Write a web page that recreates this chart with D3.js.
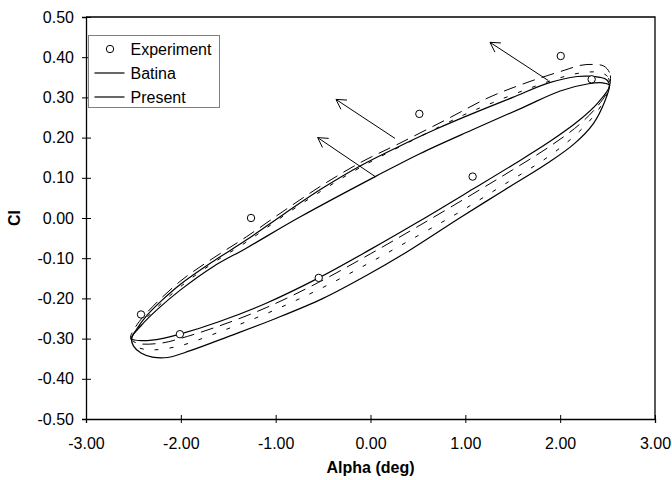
<!DOCTYPE html>
<html>
<head>
<meta charset="utf-8">
<script src="https://cdn.jsdelivr.net/npm/d3@7"></script>
<style>
    body { margin: 0; background: #fff; }
    text { font-family: Arial, "Liberation Sans", sans-serif; }
</style>
</head>
<body>
<svg id="chart" width="672" height="480"></svg>
<script>
// ---- data ----
var xTicks = [-3, -2, -1, 0, 1, 2, 3],
    xTickLabels = ["-3.00", "-2.00", "-1.00", "0.00", "1.00", "2.00", "3.00"],
    yTicks = [-0.5, -0.4, -0.3, -0.2, -0.1, 0, 0.1, 0.2, 0.3, 0.4, 0.5],
    yTickLabels = ["-0.50", "-0.40", "-0.30", "-0.20", "-0.10", "0.00", "0.10", "0.20", "0.30", "0.40", "0.50"];

var experiment = [
    [-2.42, -0.240], [-2.01, -0.289], [-1.26, 0.000], [-0.546, -0.149],
    [0.515, 0.259], [1.077, 0.103], [2.006, 0.403], [2.332, 0.345]
];

// outer solid loop: upper branch right -> left, lower branch left -> right
var batinaUpper = [
    [2.52, 0.330], [2.49, 0.344], [2.42, 0.350], [2.30, 0.353], [2.18, 0.352], [1.88, 0.336],
    [1.50, 0.300], [1.10, 0.262], [0.70, 0.222], [0.30, 0.178], [-0.09, 0.132], [-0.50, 0.075],
    [-0.90, 0.012], [-1.31, -0.055], [-1.66, -0.108], [-2.01, -0.166], [-2.20, -0.205],
    [-2.36, -0.243], [-2.47, -0.278], [-2.52, -0.300]
];
var batinaLower = [
    [-2.52, -0.300], [-2.50, -0.318], [-2.42, -0.336], [-2.30, -0.346], [-2.14, -0.347],
    [-1.90, -0.330], [-1.50, -0.295], [-1.00, -0.250], [-0.50, -0.200], [-0.02, -0.140],
    [0.40, -0.082], [0.94, 0.000], [1.40, 0.068], [1.89, 0.140], [2.15, 0.185],
    [2.35, 0.235], [2.47, 0.290], [2.52, 0.330]
];

// inner solid loop
var presentUpper = [
    [2.52, 0.330], [2.45, 0.336], [2.30, 0.334], [2.00, 0.316], [1.60, 0.274], [1.07, 0.219],
    [0.52, 0.160], [0.05, 0.103], [-0.74, 0.003], [-1.31, -0.075], [-1.66, -0.121],
    [-2.01, -0.180], [-2.25, -0.228], [-2.42, -0.268], [-2.52, -0.300]
];
var presentLower = [
    [-2.52, -0.300], [-2.40, -0.305], [-2.20, -0.300], [-2.01, -0.289], [-1.60, -0.258],
    [-1.10, -0.212], [-0.546, -0.149], [0.0, -0.078], [0.50, -0.010], [1.08, 0.072],
    [1.50, 0.132], [1.89, 0.190], [2.20, 0.243], [2.40, 0.287], [2.52, 0.330]
];

// two dashed loops with no legend entry
var longDashUpper = [
    [2.53, 0.340], [2.52, 0.362], [2.46, 0.378], [2.35, 0.382], [2.22, 0.380], [2.05, 0.368],
    [1.65, 0.337], [1.25, 0.300], [0.80, 0.245], [0.30, 0.185], [-0.09, 0.140], [-0.50, 0.083],
    [-0.90, 0.020], [-1.31, -0.047], [-1.66, -0.100], [-2.01, -0.158], [-2.36, -0.236],
    [-2.48, -0.272], [-2.53, -0.300]
];
var longDashLower = [
    [-2.53, -0.300], [-2.45, -0.312], [-2.20, -0.311], [-2.01, -0.300], [-1.60, -0.269],
    [-1.10, -0.223], [-0.546, -0.160], [0.0, -0.089], [0.50, -0.021], [1.08, 0.060],
    [1.50, 0.120], [1.89, 0.178], [2.20, 0.232], [2.40, 0.280], [2.50, 0.315], [2.53, 0.340]
];
var shortDashUpper = [
    [2.52, 0.335], [2.50, 0.352], [2.42, 0.362], [2.25, 0.362], [2.03, 0.351], [1.68, 0.323],
    [1.29, 0.287], [0.98, 0.256], [0.50, 0.200], [-0.09, 0.128], [-0.50, 0.070], [-0.90, 0.008],
    [-1.31, -0.060], [-1.66, -0.112], [-2.01, -0.172], [-2.36, -0.248], [-2.48, -0.282],
    [-2.52, -0.305]
];
var shortDashLower = [
    [-2.52, -0.305], [-2.45, -0.322], [-2.30, -0.328], [-2.01, -0.318], [-1.60, -0.284],
    [-1.10, -0.238], [-0.546, -0.178], [0.0, -0.110], [0.50, -0.044], [0.94, 0.015],
    [1.40, 0.082], [1.89, 0.155], [2.20, 0.215], [2.40, 0.268], [2.50, 0.312], [2.52, 0.335]
];

// arrows: [tail, head]
var arrows = [
    [[1.875, 0.342], [1.26, 0.437]],
    [[0.258, 0.198], [-0.364, 0.295]],
    [[0.05, 0.103], [-0.557, 0.200]]
];

var legendLabels = ["Experiment", "Batina", "Present"];

// ---- drawing ----
var svg = d3.select("#chart");

var x = d3.scaleLinear().domain([-3, 3]).range([86, 655]),
    y = d3.scaleLinear().domain([-0.5, 0.5]).range([419, 17]);

svg.append("rect").attr("width", 672).attr("height", 480).attr("fill", "#fff");

// plot frame (top + right)
svg.append("path")
    .attr("d", `M${x(-3)},${y(0.5)}H${x(3)}V${y(-0.5)}`)
    .attr("fill", "none")
    .attr("stroke", "#000")
    .attr("stroke-width", 1.3);

var line = d3.line()
    .curve(d3.curveCatmullRomClosed.alpha(0.5))
    .x((d) => x(d[0]))
    .y((d) => y(d[1]));

var loop = (upper, lower) => upper.concat(lower.slice(1, -1));

var loops = [
    { pts: loop(longDashUpper, longDashLower), dash: "13,7", w: 1 },
    { pts: loop(shortDashUpper, shortDashLower), dash: "4,11", w: 1 },
    { pts: loop(batinaUpper, batinaLower), dash: null, w: 1.2 },
    { pts: loop(presentUpper, presentLower), dash: null, w: 1.2 }
];

svg.append("g")
    .selectAll("path")
    .data(loops)
    .enter()
    .append("path")
    .attr("d", (d) => line(d.pts))
    .attr("fill", "none")
    .attr("stroke", "#000")
    .attr("stroke-width", (d) => d.w)
    .attr("stroke-dasharray", (d) => d.dash);

// arrows with open heads
var arrowG = svg.append("g").attr("stroke", "#000").attr("fill", "none").attr("stroke-width", 1);
arrows.forEach(function (a) {
    let tx = x(a[0][0]), ty = y(a[0][1]),
        hx = x(a[1][0]), hy = y(a[1][1]),
        len = Math.hypot(tx - hx, ty - hy),
        ux = (tx - hx) / len, uy = (ty - hy) / len,
        ang = Math.PI / 6, barb = 11;
    let b1 = [hx + barb * (ux * Math.cos(ang) - uy * Math.sin(ang)), hy + barb * (ux * Math.sin(ang) + uy * Math.cos(ang))],
        b2 = [hx + barb * (ux * Math.cos(-ang) - uy * Math.sin(-ang)), hy + barb * (ux * Math.sin(-ang) + uy * Math.cos(-ang))];
    arrowG.append("path").attr("d", `M${tx},${ty}L${hx},${hy}`);
    arrowG.append("path").attr("d", `M${b1[0]},${b1[1]}L${hx},${hy}L${b2[0]},${b2[1]}`);
});

// experiment markers
svg.append("g")
    .selectAll("circle")
    .data(experiment)
    .enter()
    .append("circle")
    .attr("cx", (d) => x(d[0]))
    .attr("cy", (d) => y(d[1]))
    .attr("r", 3.7)
    .attr("fill", "#fff")
    .attr("stroke", "#000")
    .attr("stroke-width", 1);

// axes
var xAxis = d3.axisBottom(x)
    .tickValues(xTicks)
    .tickFormat((d, i) => xTickLabels[i])
    .tickSizeOuter(0)
    .tickSize(4)
    .tickPadding(15);
var yAxis = d3.axisLeft(y)
    .tickValues(yTicks)
    .tickFormat((d, i) => yTickLabels[i])
    .tickSizeOuter(0)
    .tickSize(4)
    .tickPadding(8);

svg.append("g")
    .attr("transform", `translate(0,${y(-0.5)})`)
    .call(xAxis)
    .call((g) => g.selectAll(".tick line").attr("y1", -4).attr("y2", 4))
    .call((g) => g.select(".domain").attr("stroke-width", 1.3))
    .call((g) => g.selectAll("text").attr("font-size", 16).attr("fill", "#000").attr("font-family", "Arial, 'Liberation Sans', sans-serif"));

svg.append("g")
    .attr("transform", `translate(${x(-3)},0)`)
    .call(yAxis)
    .call((g) => g.selectAll(".tick line").attr("x1", -4).attr("x2", 5))
    .call((g) => g.select(".domain").attr("stroke-width", 1.3))
    .call((g) => g.selectAll("text").attr("font-size", 16).attr("fill", "#000").attr("font-family", "Arial, 'Liberation Sans', sans-serif"));

// axis titles
svg.append("text")
    .attr("x", (x(-3) + x(3)) / 2)
    .attr("y", 473)
    .attr("text-anchor", "middle")
    .attr("font-size", 16)
    .attr("font-weight", "bold")
    .text("Alpha (deg)");

svg.append("text")
    .attr("transform", `translate(20,${y(0)}) rotate(-90)`)
    .attr("text-anchor", "middle")
    .attr("font-size", 16)
    .attr("font-weight", "bold")
    .text("Cl");

// legend
var legend = svg.append("g").attr("transform", "translate(88.5,35.5)");
legend.append("rect")
    .attr("width", 131)
    .attr("height", 72)
    .attr("fill", "#fff")
    .attr("stroke", "#808080")
    .attr("stroke-width", 1);

legendLabels.forEach(function (label, i) {
    let cy = 13.5 + i * 24;
    if (i === 0) {
        legend.append("circle").attr("cx", 21.5).attr("cy", cy).attr("r", 3.7)
            .attr("fill", "#fff").attr("stroke", "#000");
    } else {
        legend.append("line").attr("x1", 6).attr("x2", 36).attr("y1", cy).attr("y2", cy)
            .attr("stroke", "#000").attr("stroke-width", 1.2);
    }
    legend.append("text")
        .attr("x", 42)
        .attr("y", cy + 6)
        .attr("font-size", 16)
        .text(label);
});
</script>
</body>
</html>
